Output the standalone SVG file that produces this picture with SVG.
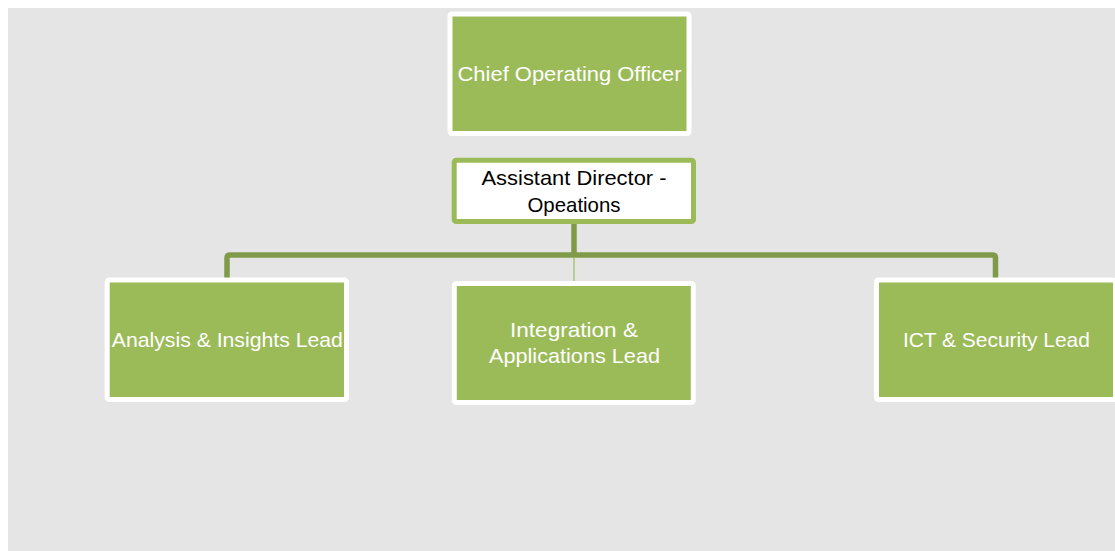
<svg xmlns="http://www.w3.org/2000/svg" width="1115" height="551" viewBox="0 0 1115 551">
  <style>
    .box { fill: #9bbb59; stroke: #ffffff; stroke-width: 5; }
    .box-alt { fill: #ffffff; stroke: #9bbb59; stroke-width: 5; }
    .lbl { font-family: "Liberation Sans", Arial, sans-serif; font-size: 21px; text-anchor: middle; fill: #ffffff; }
    .lbl-dark { fill: #000000; }
    .link { fill: none; stroke: #7f9a48; stroke-width: 5.5; stroke-linejoin: round; }
    .link-thin { fill: none; stroke: #9bbb59; stroke-width: 1.2; }
  </style>

  <!-- canvas -->
  <rect x="8" y="8" width="1107" height="543" fill="#e5e5e5"/>

  <!-- connectors -->
  <g id="connectors">
    <path class="link" d="M574,222 V255"/>
    <path class="link" d="M227,280 V258 Q227,255 230,255 H992.5 Q995.5,255 995.5,258 V280"/>
    <path class="link-thin" d="M574,257 V283"/>
  </g>

  <g id="coo">
    <rect class="box" x="450" y="14" width="239" height="119.5" rx="2"/>
    <text class="lbl" x="569.5" y="81" textLength="224" lengthAdjust="spacingAndGlyphs">Chief Operating Officer</text>
  </g>

  <g id="assistant-director">
    <rect class="box-alt" x="454.2" y="160.3" width="239.3" height="61.3" rx="2"/>
    <text class="lbl lbl-dark" x="574" y="185" textLength="185" lengthAdjust="spacingAndGlyphs">Assistant Director -</text>
    <text class="lbl lbl-dark" x="574" y="211.5" textLength="93" lengthAdjust="spacingAndGlyphs">Opeations</text>
  </g>

  <g id="analysis-lead">
    <rect class="box" x="107.2" y="280" width="239.3" height="119.5" rx="2"/>
    <text class="lbl" x="227.3" y="346.7" textLength="231" lengthAdjust="spacingAndGlyphs">Analysis &amp; Insights Lead</text>
  </g>

  <g id="integration-lead">
    <rect class="box" x="454.3" y="283.5" width="239" height="119" rx="2"/>
    <text class="lbl" x="574" y="337.3" textLength="128" lengthAdjust="spacingAndGlyphs">Integration &amp;</text>
    <text class="lbl" x="574.5" y="362.7" textLength="171" lengthAdjust="spacingAndGlyphs">Applications Lead</text>
  </g>

  <g id="ict-lead">
    <rect class="box" x="876.5" y="280" width="239" height="119.5" rx="2"/>
    <text class="lbl" x="996.4" y="346.7" textLength="187" lengthAdjust="spacingAndGlyphs">ICT &amp; Security Lead</text>
  </g>
</svg>
